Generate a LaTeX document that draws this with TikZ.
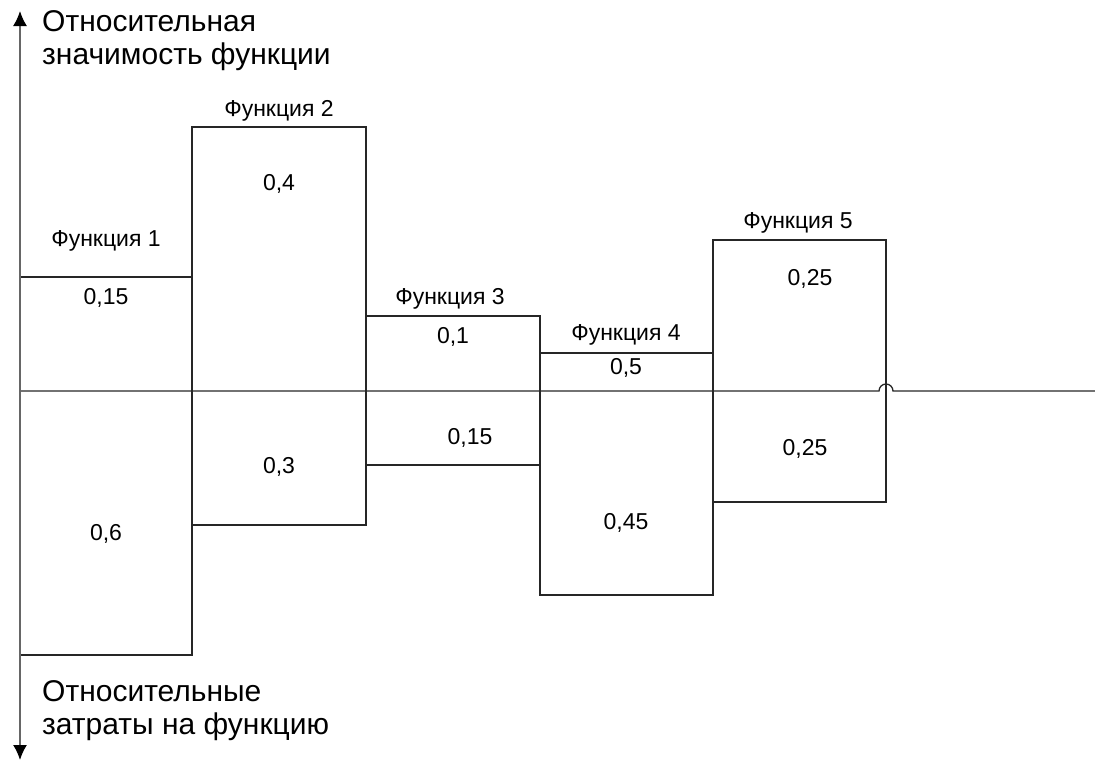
\documentclass[tikz,border=0pt]{standalone}
\usepackage{fontspec}
\setmainfont{Liberation Sans}
\usetikzlibrary{arrows.meta}
\tikzset{
  >={Latex[length=15pt,width=14pt,black]},
}
\tikzstyle{axes}=[line width=1.6pt,gray!80!black]
\tikzstyle{zero}=[line width=1.3pt,black!85]
\tikzstyle{bar}=[line width=1.2pt,black!85]
\tikzstyle{every node}=[font=\fontsize{23}{27}\selectfont]
\tikzstyle{axislabel}=[font=\fontsize{30}{33}\selectfont,align=left,anchor=west,inner sep=0pt]

\begin{document}
\begin{tikzpicture}[x=1pt,y=-1pt]
    \useasboundingbox (0,0) rectangle (1095,763);
    % bars: left/right/top/bottom
    \foreach \l/\r/\t/\b in {20/192/277/655,192/366/127/525,366/540/316/465,540/713/353/595,713/886/240/502}
      \draw[bar] (\l,\t) rectangle (\r,\b);
    \coordinate (o) at (20,391);
    \coordinate (e) at (1095,391);
    \coordinate (up) at (20,11);
    \coordinate (dn) at (20,760);
    \draw[zero] (o) -- (879,391) arc[start angle=180,end angle=360,radius=7] -- (e);
    \draw[axes,<->] (dn) -- (up);
    \node[axislabel] (imp) at (42,41) {Относительная\\значимость функции};
    \node[axislabel] (cost) at (42,711) {Относительные\\затраты на функцию};
    % function names
    \node (f1) at (106,241) {Функция 1};
    \node (f2) at (279,111) {Функция 2};
    \node (f3) at (450,299) {Функция 3};
    \node (f4) at (626,335) {Функция 4};
    \node (f5) at (798,223) {Функция 5};
    % significance
    \node (u1) at (106,298) {0,15};
    \node (u2) at (279,184) {0,4};
    \node (u3) at (453,337) {0,1};
    \node (u4) at (626,368) {0,5};
    \node (u5) at (810,279) {0,25};
    % costs
    \node (c1) at (106,534) {0,6};
    \node (c2) at (279,467) {0,3};
    \node (c3) at (470,438) {0,15};
    \node (c4) at (626,523) {0,45};
    \node (c5) at (805,449) {0,25};
  \end{tikzpicture}
\end{document}
